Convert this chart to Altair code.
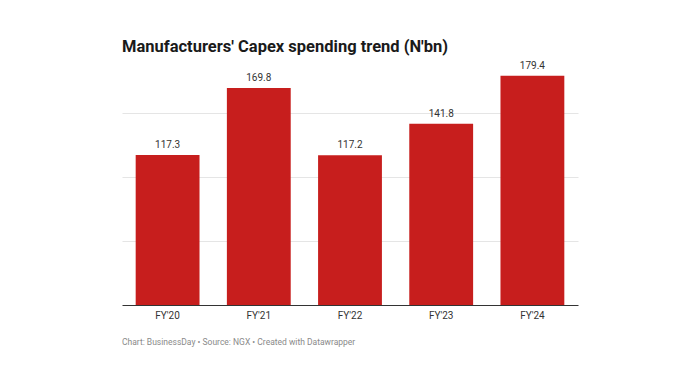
import altair as alt
import pandas as pd

years = ["FY'20", "FY'21", "FY'22", "FY'23", "FY'24"]
capex = [117.3, 169.8, 117.2, 141.8, 179.4]
grid_values = [50, 100, 150]

title_text = "Manufacturers' Capex spending trend (N'bn)"
footer_text = "Chart: BusinessDay \u2022 Source: NGX \u2022 Created with Datawrapper"

df = pd.DataFrame({"year": years, "value": capex})
df["label"] = df["value"].map(lambda v: f"{v:.1f}")

W, H = 456, 230
FONT = "Roboto"

x = alt.X(
    "year:N",
    sort=years,
    scale=alt.Scale(paddingInner=0.3, paddingOuter=0.15),
    axis=alt.Axis(
        title=None, labelAngle=0, ticks=False, domain=True, domainColor="#333333",
        domainWidth=1, labelColor="#333333", labelFontSize=10, labelFont=FONT,
        labelPadding=5,
    ),
)
y = alt.Y(
    "value:Q",
    scale=alt.Scale(domain=[0, 180], nice=False),
    axis=alt.Axis(
        title=None, labels=False, ticks=False, domain=False, values=grid_values,
        grid=True, gridColor="#e5e5e5", gridWidth=1,
    ),
)

bars = alt.Chart(df).mark_bar(color="#c71e1d").encode(x=x, y=y)
labels = alt.Chart(df).mark_text(
    baseline="bottom", dy=-5, fontSize=10, font=FONT, color="#333333"
).encode(x=alt.X("year:N", sort=years), y="value:Q", text="label:N")

footer = alt.Chart(pd.DataFrame({"t": [footer_text]})).mark_text(
    align="left", baseline="middle", fontSize=8.5, font=FONT, color="#8a8a8a"
).encode(x=alt.value(0), y=alt.value(H + 37), text="t:N")

chart = alt.layer(bars, labels, footer).properties(
    width=W, height=H,
    background="white",
    title=alt.TitleParams(
        title_text, anchor="start", frame="group", font=FONT, fontSize=16.5,
        fontWeight="bold", color="#1a1a1a", offset=5,
    ),
    padding={"left": 114, "top": 67, "right": 110, "bottom": 60},
    autosize=alt.AutoSizeParams(type="none"),
).configure_view(stroke=None)

chart.save("out.html", embed_options={"renderer": "svg", "actions": False})
